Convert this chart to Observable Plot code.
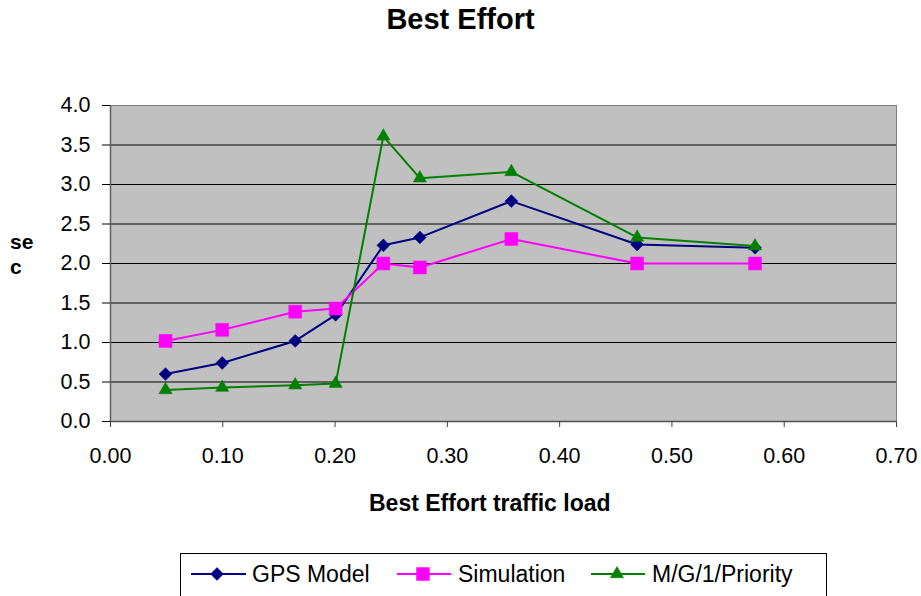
<!DOCTYPE html>
<html>
<head>
<meta charset="utf-8">
<script src="https://cdn.jsdelivr.net/npm/d3@7"></script>
<script src="https://cdn.jsdelivr.net/npm/@observablehq/plot@0.6"></script>
<style>
  body { margin: 0; background: #fff; font-family: "Liberation Sans", Arial, sans-serif; }
  #chart { position: relative; width: 921px; height: 596px; overflow: hidden; background: #fff; }
  #title { position: absolute; left: 0; width: 921px; top: 2px; text-align: center; font-weight: bold; font-size: 29px; line-height: 35px; }
  #plot { position: absolute; left: 0; top: 50px; }
  #ylabel { position: absolute; left: 10px; top: 229px; font-weight: bold; font-size: 21px; line-height: 25px; }
  #xlabel { position: absolute; left: 369px; top: 489px; font-weight: bold; font-size: 23px; line-height: 28px; white-space: nowrap; }
  #legend { position: absolute; left: 180px; top: 553px; }
</style>
</head>
<body>
<div id="chart">
  <div id="title">Best Effort</div>
  <div id="plot"></div>
  <div id="ylabel">se<br>c</div>
  <div id="xlabel">Best Effort traffic load</div>
  <div id="legend"></div>
</div>
<script>
// Best Effort traffic load (x) shared by all three series
const load = [0.049, 0.0995, 0.1645, 0.2005, 0.243, 0.2755, 0.357, 0.469, 0.574];

// Delay in seconds for each model
const gpsModel    = [0.60, 0.74, 1.02, 1.35, 2.23, 2.33, 2.79, 2.24, 2.20];
const simulation  = [1.02, 1.16, 1.39, 1.43, 2.00, 1.95, 2.31, 2.00, 2.00];
const mg1Priority = [0.40, 0.43, 0.46, 0.48, 3.61, 3.08, 3.16, 2.33, 2.22];

const seriesNames = ["GPS Model", "Simulation", "M/G/1/Priority"];
const seriesValues = [gpsModel, simulation, mg1Priority];

const xTicks = [0, 0.1, 0.2, 0.3, 0.4, 0.5, 0.6, 0.7];
const yTicks = [0, 0.5, 1.0, 1.5, 2.0, 2.5, 3.0, 3.5, 4.0];

// Styling per series
const styles = [
  {color: "#000080", symbol: "diamond2", d3symbol: d3.symbolDiamond2, r: 5.8},
  {color: "#ff00ff", symbol: "square",   d3symbol: d3.symbolSquare,   r: 7.3},
  {color: "#008000", symbol: "triangle", d3symbol: d3.symbolTriangle, r: 4.9}
];

const rows = seriesNames.map((name, i) =>
  load.map((x, j) => ({series: name, load: x, sec: seriesValues[i][j]}))
);

const seriesMarks = rows.flatMap((data, i) => [
  Plot.line(data, {x: "load", y: "sec", stroke: styles[i].color, strokeWidth: 2}),
  Plot.dot(data, {x: "load", y: "sec", symbol: () => styles[i].symbol, r: styles[i].r,
                  fill: styles[i].color, stroke: styles[i].color, strokeWidth: 0.5})
]);

const chart = Plot.plot({
  width: 921,
  height: 480,
  marginLeft: 110,
  marginRight: 25,
  marginTop: 55,
  marginBottom: 109,
  style: {fontFamily: "'Liberation Sans', Arial, sans-serif", fontSize: "21.5px", color: "#000", background: "transparent", overflow: "visible"},
  x: {domain: [0, 0.7]},
  y: {domain: [0, 4]},
  marks: [
    Plot.frame({fill: "#c0c0c0", stroke: "none"}),
    Plot.gridY(yTicks.filter(d => d > 0 && d < 4), {stroke: "#000", strokeOpacity: 1, strokeWidth: 1}),
    Plot.ruleY([4], {stroke: "#808080", strokeWidth: 1}),
    Plot.ruleX([0.7], {stroke: "#808080", strokeWidth: 1}),
    Plot.ruleY([0], {stroke: "#505050", strokeWidth: 1.5}),
    Plot.ruleX([0], {stroke: "#606060", strokeWidth: 1.5}),
    Plot.axisY({ticks: yTicks, tickFormat: d => d.toFixed(1), tickSize: 8, tickPadding: 12, stroke: "#000", label: null}),
    Plot.axisX({ticks: xTicks, tickFormat: d => d.toFixed(2), tickSize: 6, tickPadding: 20, stroke: "#404040", label: null}),
    ...seriesMarks
  ]
});
document.getElementById("plot").append(chart);

// Legend box with line-and-marker samples
const legendLayout = [
  {x0: 11, x1: 66, mx: 37, tx: 72},
  {x0: 217, x1: 271, mx: 243, tx: 278},
  {x0: 411, x1: 465, mx: 437, tx: 472}
];
const legend = d3.create("svg").attr("width", 648).attr("height", 48)
  .style("font-family", "'Liberation Sans', Arial, sans-serif");
legend.append("rect").attr("x", 0.5).attr("y", 0.5).attr("width", 646).attr("height", 60)
  .attr("fill", "#fff").attr("stroke", "#000").attr("stroke-width", 1);
seriesNames.forEach((name, i) => {
  const L = legendLayout[i], s = styles[i], cy = 21;
  legend.append("line").attr("x1", L.x0).attr("x2", L.x1).attr("y1", cy).attr("y2", cy)
    .attr("stroke", s.color).attr("stroke-width", 2);
  legend.append("path").attr("d", d3.symbol(s.d3symbol, Math.PI * s.r * s.r)())
    .attr("transform", `translate(${L.mx},${cy})`)
    .attr("fill", s.color).attr("stroke", s.color).attr("stroke-width", 0.5);
  legend.append("text").attr("x", L.tx).attr("y", cy).attr("dy", "0.35em")
    .attr("font-size", 23).attr("fill", "#000").text(name);
});
document.getElementById("legend").append(legend.node());
</script>
</body>
</html>
